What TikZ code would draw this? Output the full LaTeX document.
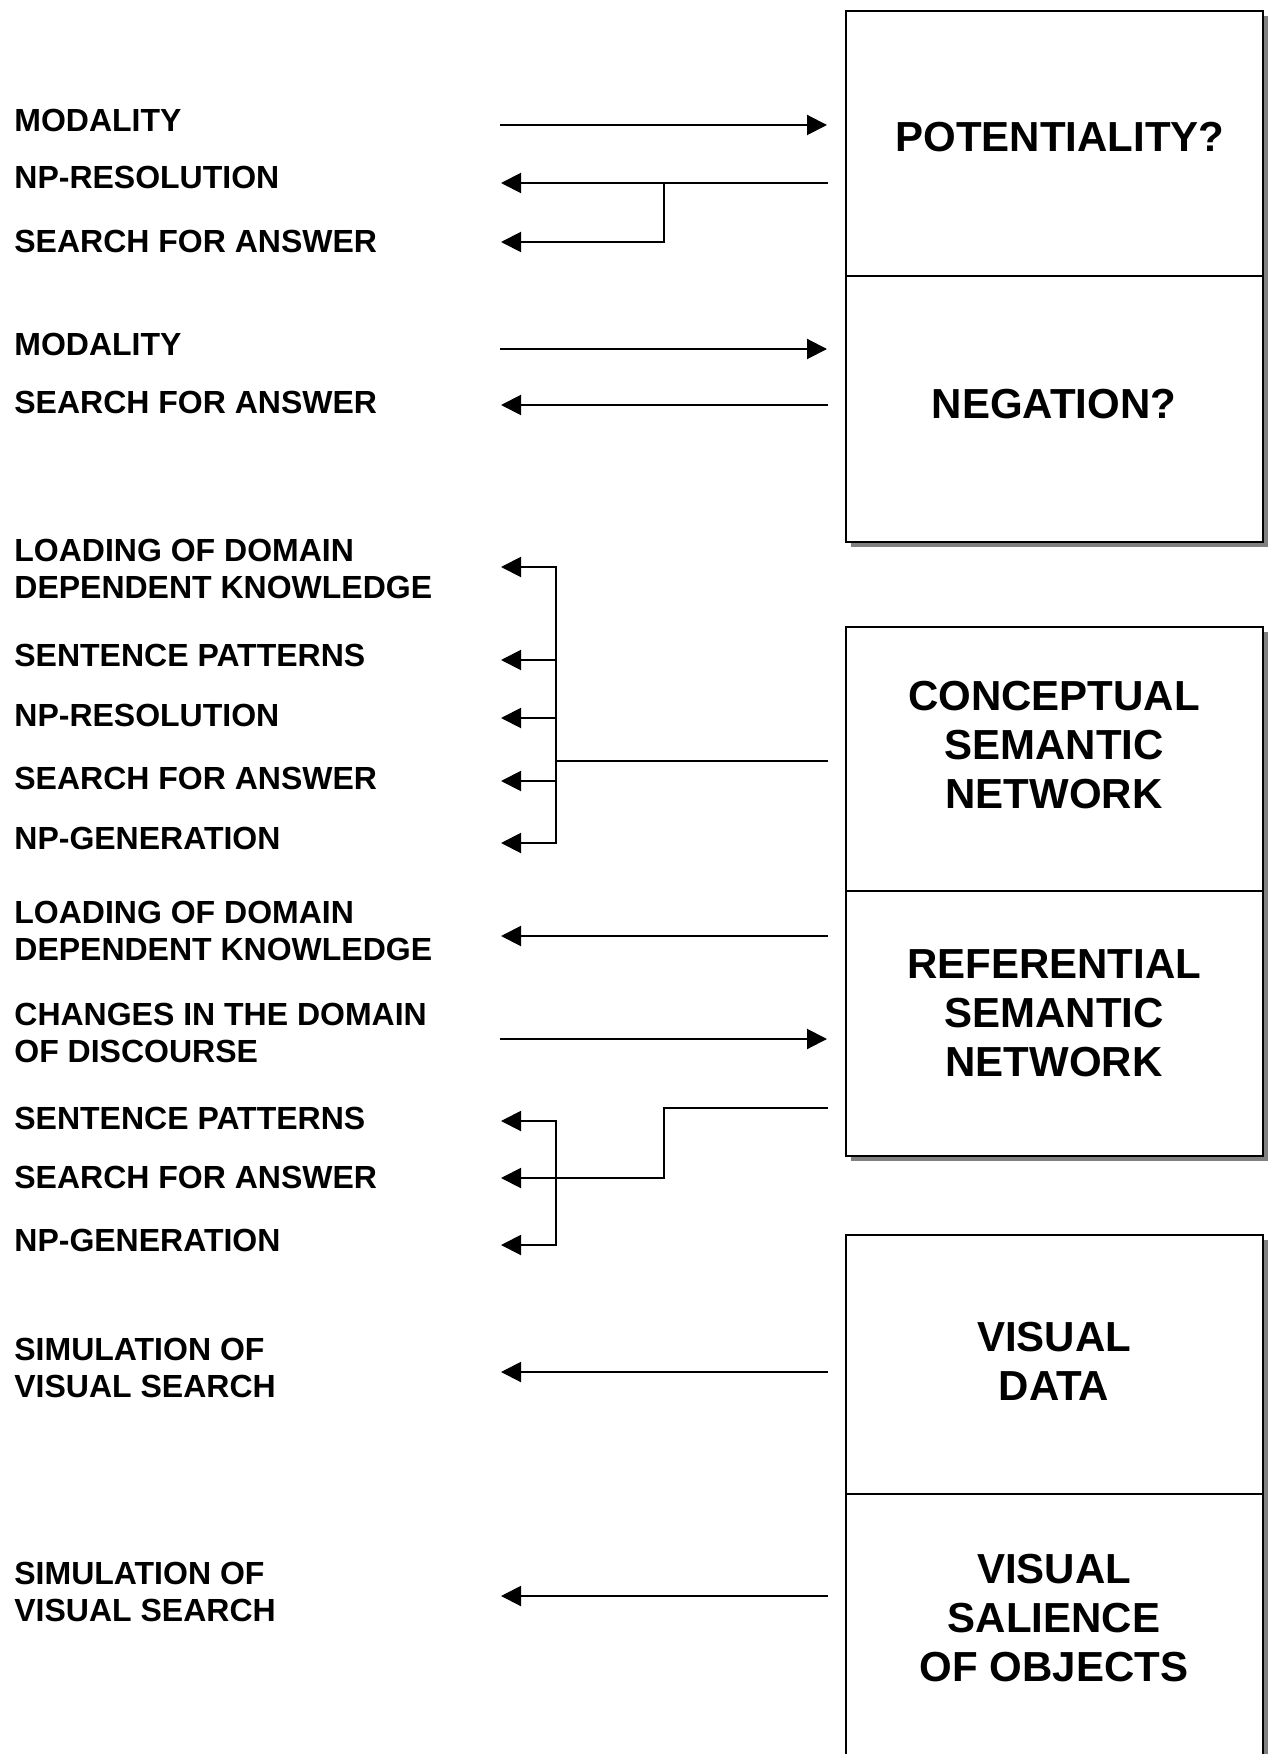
\documentclass[tikz,border=0pt]{standalone}
\usepackage{fontspec}
\setmainfont{Liberation Sans}
\usetikzlibrary{arrows.meta}
\begin{document}
\begin{tikzpicture}[x=0.5pt,y=-0.5pt,
  conn/.style={line width=1pt},
  arr/.style={conn,-{Triangle[length=10pt,width=10pt]}},
  lbl/.style={anchor=west,inner sep=0pt,align=left,
    font=\fontsize{16}{18.5}\selectfont\bfseries},
  cell/.style={draw,line width=1pt,fill=white,minimum width=208.5pt,
    inner sep=0pt,anchor=north west},
  celltext/.style={inner sep=0pt,align=center,
    font=\fontsize{21}{24.5}\selectfont\bfseries},
  shade/.style={fill=black!50,draw=none}]

\useasboundingbox (0,0) rectangle (1268,1754);

% drop shadows behind the three box pairs
\fill[shade] (851,16) rectangle (1268,547);
\fill[shade] (851,632) rectangle (1268,1161);
\fill[shade] (851,1240) rectangle (1268,1790);

% knowledge sources
\node[cell,minimum height=132.5pt] (pot) at (845,10) {};
\node[cell,minimum height=133pt]   (neg) at (845,275) {};
\node[cell,minimum height=132pt]   (csn) at (845,626) {};
\node[cell,minimum height=132.5pt] (rsn) at (845,890) {};
\node[cell,minimum height=129.5pt] (vd)  at (845,1234) {};
\node[cell,minimum height=145pt]   (vs)  at (845,1493) {};

\node[celltext] (potT) at (1060,137) {POTENTIALITY?};
\node[celltext] (negT) at (1054,404) {NEGATION?};
\node[celltext] (csnT) at (1054,745) {CONCEPTUAL\\SEMANTIC\\NETWORK};
\node[celltext] (rsnT) at (1054,1013) {REFERENTIAL\\SEMANTIC\\NETWORK};
\node[celltext] (vdT)  at (1054,1361) {VISUAL\\DATA};
\node[celltext] (vsT)  at (1054,1618) {VISUAL\\SALIENCE\\OF OBJECTS};

% processes
\node[lbl] (l1)  at (14,120)  {MODALITY};
\node[lbl] (l2)  at (14,177)  {NP-RESOLUTION};
\node[lbl] (l3)  at (14,241)  {SEARCH FOR ANSWER};
\node[lbl] (l4)  at (14,344)  {MODALITY};
\node[lbl] (l5)  at (14,402)  {SEARCH FOR ANSWER};
\node[lbl] (l6)  at (14,569)  {LOADING OF DOMAIN\\DEPENDENT KNOWLEDGE};
\node[lbl] (l7)  at (14,655)  {SENTENCE PATTERNS};
\node[lbl] (l8)  at (14,715)  {NP-RESOLUTION};
\node[lbl] (l9)  at (14,778)  {SEARCH FOR ANSWER};
\node[lbl] (l10) at (14,838)  {NP-GENERATION};
\node[lbl] (l11) at (14,930.5) {LOADING OF DOMAIN\\DEPENDENT KNOWLEDGE};
\node[lbl] (l12) at (14,1033) {CHANGES IN THE DOMAIN\\OF DISCOURSE};
\node[lbl] (l13) at (14,1118) {SENTENCE PATTERNS};
\node[lbl] (l14) at (14,1177.5) {SEARCH FOR ANSWER};
\node[lbl] (l15) at (14,1240.5) {NP-GENERATION};
\node[lbl] (l16) at (14,1367.5) {SIMULATION OF\\VISUAL SEARCH};
\node[lbl] (l17) at (14,1591.5) {SIMULATION OF\\VISUAL SEARCH};

% arrow ends on the process side
\coordinate (k1)  at (500,125);
\coordinate (k2)  at (501,183);
\coordinate (k3)  at (501,242);
\coordinate (k4)  at (500,349);
\coordinate (k5)  at (501,405);
\coordinate (k6)  at (501,567);
\coordinate (k7)  at (501,660);
\coordinate (k8)  at (501,718);
\coordinate (k9)  at (501,781);
\coordinate (k10) at (501,843);
\coordinate (k11) at (501,936);
\coordinate (k12) at (500,1039);
\coordinate (k13) at (501,1121);
\coordinate (k14) at (501,1178);
\coordinate (k15) at (501,1245);
\coordinate (k16) at (501,1372);
\coordinate (k17) at (501,1596);

% arrow ends on the knowledge-source side
\coordinate (s1)  at (827,125);
\coordinate (s2)  at (828,183);
\coordinate (s4)  at (827,349);
\coordinate (s5)  at (828,405);
\coordinate (s6)  at (828,761);
\coordinate (s11) at (828,936);
\coordinate (s12) at (827,1039);
\coordinate (s13) at (828,1108);
\coordinate (s16) at (828,1372);
\coordinate (s17) at (828,1596);

% junctions
\coordinate (j1) at (664,183);
\coordinate (j2) at (556,761);
\coordinate (j3) at (664,1108);
\coordinate (j4) at (556,1178);

% potentiality
\draw[arr] (k1) -- (s1);
\draw[arr] (s2) -- (k2);
\draw[arr] (j1) |- (k3);

% negation
\draw[arr] (k4) -- (s4);
\draw[arr] (s5) -- (k5);

% conceptual semantic network
\draw[conn] (s6) -- (j2);
\foreach \t in {k6,k7,k8,k9,k10} \draw[arr] (j2) |- (\t);

% referential semantic network
\draw[arr] (s11) -- (k11);
\draw[arr] (k12) -- (s12);
\draw[arr] (s13) -- (j3) |- (k14);
\draw[arr] (j4) |- (k13);
\draw[arr] (j4) |- (k15);

% visual data and salience
\draw[arr] (s16) -- (k16);
\draw[arr] (s17) -- (k17);
\end{tikzpicture}
\end{document}
